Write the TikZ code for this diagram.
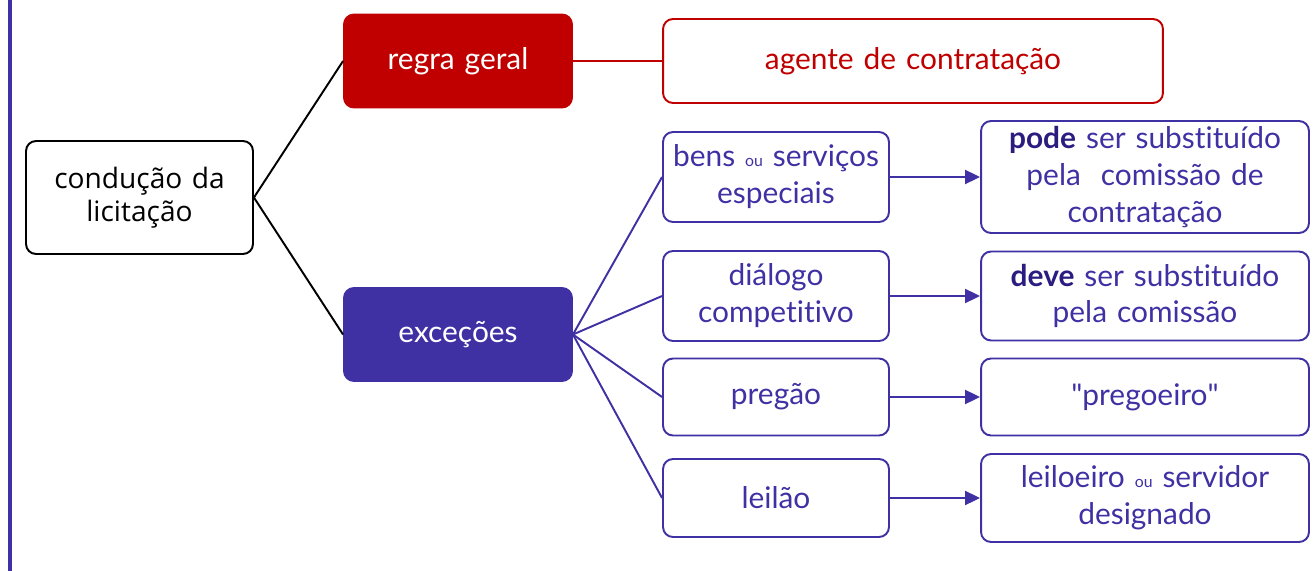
\documentclass[tikz,border=0pt]{standalone}
\usepackage{fontspec}
\setmainfont{Lato}[Ligatures={TeX,NoCommon}]
\newfontfamily\condfont{Open Sans}
\usetikzlibrary{arrows.meta,positioning}
\definecolor{vermelho}{HTML}{C00000}
\definecolor{roxo}{HTML}{3F31A3}
\definecolor{roxoesc}{HTML}{2B1C80}

\newcommand{\ouword}{{\fontsize{9}{9}\selectfont ou}}

\begin{document}
\begin{tikzpicture}[x=0.02cm, y=-0.02cm, >={Triangle[length=3mm,width=2.8mm]}]

\tikzstyle{caixa}=[draw, text centered, rounded corners=0.2cm, line width=1.1pt, inner sep=0pt, font=\fontsize{17}{21}\selectfont]
\tikzstyle{cheia}=[caixa, text=white]
\tikzstyle{roxa}=[caixa, draw=roxo, text=roxo]
\tikzstyle{lig}=[line width=1.1pt]

\useasboundingbox (0,0) rectangle (1315,571);
\draw[roxo, line width=2.2pt] (10,0) -- (10,571);

% raiz
\node(C1)[style = caixa, text width=4.54cm, minimum height=2.26cm, font=\condfont\fontsize{16}{19}\selectfont] at (139.5,197.5) {condução da\\licitação};

% regra geral
\node(R1)[style = cheia, fill=vermelho, draw=vermelho, text width=4.56cm, minimum height=1.86cm] at (458,61) {regra geral};
\node(R11)[style = caixa, draw=vermelho, text=vermelho, text width=10cm, minimum height=1.68cm] at (913,61) {agente de contratação};

% excecoes
\node(E1)[style = cheia, fill=roxo, draw=roxo, text width=4.56cm, minimum height=1.86cm] at (458,334.5) {exceções};

\node(E11)[style = roxa, text width=4.52cm, minimum height=1.8cm] at (776,177) {bens \ouword{} serviços\\especiais};
\node(E12)[style = roxa, text width=4.52cm, minimum height=1.8cm] at (776,296) {diálogo\\competitivo};
\node(E13)[style = roxa, text width=4.52cm, minimum height=1.54cm] at (776,397) {pregão};
\node(E14)[style = roxa, text width=4.52cm, minimum height=1.56cm] at (776,498) {leilão};

\node(E21)[style = roxa, text width=6.56cm, minimum height=2.24cm] at (1145,177) {{\color{roxoesc}\textbf{pode}} ser substituído\\pela\ \ comissão de\\contratação};
\node(E22)[style = roxa, text width=6.56cm, minimum height=1.78cm] at (1145,296) {{\color{roxoesc}\textbf{deve}} ser substituído\\pela comissão};
\node(E23)[style = roxa, text width=6.56cm, minimum height=1.54cm] at (1145,397) {\textquotedbl pregoeiro\textquotedbl};
\node(E24)[style = roxa, text width=6.56cm, minimum height=1.76cm] at (1145,498) {leiloeiro \ouword{} servidor\\designado};

% ligacoes
\draw[style = lig] (C1.east) -- (R1.west);
\draw[style = lig] (C1.east) -- (E1.west);
\draw[style = lig, vermelho] (R1.east) -- (R11.west);

\draw[style = lig, roxo] (E1.east) -- (E11.west);
\draw[style = lig, roxo] (E1.east) -- (E12.west);
\draw[style = lig, roxo] (E1.east) -- (E13.west);
\draw[style = lig, roxo] (E1.east) -- (E14.west);

\draw[->, style = lig, roxo] (E11.east) -- (E11.east -| E21.west);
\draw[->, style = lig, roxo] (E12.east) -- (E12.east -| E22.west);
\draw[->, style = lig, roxo] (E13.east) -- (E13.east -| E23.west);
\draw[->, style = lig, roxo] (E14.east) -- (E14.east -| E24.west);

\end{tikzpicture}
\end{document}
